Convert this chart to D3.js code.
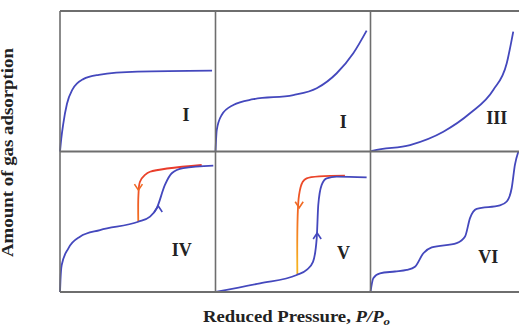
<!DOCTYPE html>
<html>
<head>
<meta charset="utf-8">
<script src="https://d3js.org/d3.v7.min.js"></script>
<style>
  html, body { margin: 0; padding: 0; background: #fff; }
  svg { display: block; }
</style>
</head>
<body>
<svg id="chart" width="519" height="328"></svg>
<script>
// Isotherm types: reduced pressure P/Po (0..1) vs amount adsorbed (0..1)
const typeLabels = ["I", "I", "III", "IV", "V", "VI"];

const isoI = [[0,0],[0.008,0.09],[0.02,0.19],[0.045,0.34],[0.08,0.44],[0.15,0.515],[0.25,0.545],[0.5,0.568],[0.981,0.575]];
const isoII = [[0,0],[0.008,0.153],[0.040,0.260],[0.115,0.331],[0.244,0.372],[0.502,0.402],[0.653,0.450],[0.782,0.557],[0.889,0.699],[0.975,0.860]];
const isoIII = [[0,0],[0.018,0.006],[0.255,0.046],[0.470,0.141],[0.642,0.272],[0.792,0.438],[0.879,0.628],[0.921,0.853]];
const isoIVads = [[0,0],[0.003,0.085],[0.011,0.192],[0.054,0.311],[0.129,0.394],[0.258,0.441],[0.505,0.500],[0.581,0.536],[0.624,0.596],[0.677,0.762],[0.721,0.845],[0.795,0.881],[0.989,0.900]];
const isoIVdes = [[0.914,0.904],[0.581,0.856],[0.548,0.833],[0.516,0.785],[0.506,0.690],[0.505,0.500]];
const isoVads = [[0,0],[0.287,0.062],[0.524,0.121],[0.588,0.157],[0.629,0.214],[0.653,0.382],[0.663,0.619],[0.685,0.762],[0.717,0.809],[0.782,0.821],[0.975,0.816]];
const isoVdes = [[0.835,0.828],[0.588,0.809],[0.563,0.785],[0.539,0.690],[0.528,0.121]];
const isoVI = [[0,0],[0.018,0.098],[0.061,0.133],[0.158,0.146],[0.234,0.157],[0.287,0.180],[0.341,0.276],[0.395,0.317],[0.556,0.348],[0.610,0.395],[0.642,0.526],[0.685,0.592],[0.835,0.616],[0.879,0.644],[0.911,0.740],[0.932,0.906],[0.954,1.0]];

// Direction markers on the hysteresis loops: [P/Po, amount]
const upArrows = [null, null, null, [0.634, 0.612], [0.656, 0.420], null];
const downArrows = [null, null, null, [0.506, 0.725], [0.540, 0.600], null];

const adsorption = [isoI, isoII, isoIII, isoIVads, isoVads, isoVI];
const desorption = [null, null, null, isoIVdes, isoVdes, null];

// Layout
const colX = [60, 215.5, 370.5];
const rowY = [11, 151.5];
const panelW = 155, panelH = 140.5;
const labelPos = [[0.813, 0.26], [0.825, 0.212], [0.814, 0.236], [0.785, 0.299], [0.825, 0.275], [0.760, 0.251]];

const blue = "#4448bd";
const frame = "#6e6e6e";

const svg = d3.select("#chart");
const defs = svg.append("defs");

// Adsorption branches rise monotonically in P/Po; desorption branches turn vertical
const adsLine = d3.line().curve(d3.curveMonotoneX);
const desLine = d3.line().curve(d3.curveCatmullRom.alpha(0.5));

adsorption.forEach((ads, i) => {
  const x0 = colX[i % 3], y0 = rowY[Math.floor(i / 3)];
  const x = d3.scaleLinear().domain([0, 1]).range([x0, x0 + panelW]);
  const y = d3.scaleLinear().domain([0, 1]).range([y0 + panelH, y0]);
  adsLine.x(d => x(d[0])).y(d => y(d[1]));
  desLine.x(d => x(d[0])).y(d => y(d[1]));

  const g = svg.append("g");

  if (desorption[i]) {
    const gid = "desGrad" + i;
    const grad = defs.append("linearGradient").attr("id", gid)
      .attr("gradientUnits", "userSpaceOnUse")
      .attr("x1", 0).attr("x2", 0).attr("y1", y(0.9)).attr("y2", y(0.2));
    grad.append("stop").attr("offset", 0).attr("stop-color", "#e8392c");
    grad.append("stop").attr("offset", 0.5).attr("stop-color", "#f26a22");
    grad.append("stop").attr("offset", 1).attr("stop-color", "#f6b020");
    g.append("path").attr("d", desLine(desorption[i]))
      .attr("fill", "none").attr("stroke", `url(#${gid})`).attr("stroke-width", 1.8);
    const da = downArrows[i];
    g.append("path")
      .attr("d", `M${x(da[0]) - 4},${y(da[1]) - 6} L${x(da[0])},${y(da[1])} L${x(da[0]) + 4},${y(da[1]) - 6}`)
      .attr("fill", "none").attr("stroke", "#f06a24").attr("stroke-width", 1.6);
  }

  g.append("path").attr("d", adsLine(ads))
    .attr("fill", "none").attr("stroke", blue).attr("stroke-width", 1.8);

  if (upArrows[i]) {
    const ua = upArrows[i];
    g.append("path")
      .attr("d", `M${x(ua[0]) - 4},${y(ua[1]) + 6} L${x(ua[0])},${y(ua[1])} L${x(ua[0]) + 4},${y(ua[1]) + 6}`)
      .attr("fill", "none").attr("stroke", blue).attr("stroke-width", 1.6);
  }

  g.append("text")
    .attr("x", x(labelPos[i][0])).attr("y", y(labelPos[i][1]))
    .attr("text-anchor", "middle").attr("dominant-baseline", "central")
    .attr("font-family", "'Liberation Serif', 'Times New Roman', serif")
    .attr("font-weight", "bold").attr("font-size", 18).attr("fill", "#222")
    .text(typeLabels[i]);
});

// Frame: horizontal rules and vertical dividers
const frameRight = 519, frameTop = rowY[0], frameMid = rowY[1], frameBottom = rowY[1] + panelH;
[frameTop, frameMid, frameBottom].forEach(yy => {
  svg.append("line").attr("x1", colX[0]).attr("x2", frameRight).attr("y1", yy).attr("y2", yy)
    .attr("stroke", frame).attr("stroke-width", 1.8);
});
colX.forEach(xx => {
  svg.append("line").attr("x1", xx).attr("x2", xx).attr("y1", frameTop).attr("y2", frameBottom)
    .attr("stroke", frame).attr("stroke-width", 1.6);
});

// Axis titles
svg.append("text")
  .attr("transform", "translate(13,152.5) rotate(-90)")
  .attr("text-anchor", "middle")
  .attr("font-family", "'Liberation Serif', 'Times New Roman', serif")
  .attr("font-weight", "bold").attr("font-size", 16).attr("fill", "#222")
  .attr("textLength", 209).attr("lengthAdjust", "spacingAndGlyphs")
  .text("Amount of gas adsorption");

const xt = svg.append("text")
  .attr("x", 203).attr("y", 322)
  .attr("font-family", "'Liberation Serif', 'Times New Roman', serif")
  .attr("font-weight", "bold").attr("font-size", 16).attr("fill", "#222")
  .attr("textLength", 187).attr("lengthAdjust", "spacingAndGlyphs");
xt.append("tspan").text("Reduced Pressure, ");
xt.append("tspan").attr("font-style", "italic").text("P/P");
xt.append("tspan").attr("font-style", "italic").attr("font-size", 11).attr("dy", 3).text("o");
</script>
</body>
</html>
